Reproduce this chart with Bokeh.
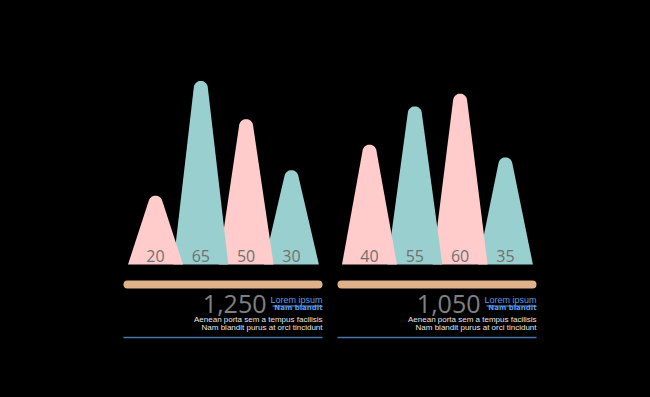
import math
from bokeh.plotting import figure
from bokeh.models import Range1d, ColumnDataSource
from bokeh.core.properties import value
from bokeh.embed import file_html
from bokeh.resources import INLINE

# ---------------- data ----------------
group_values = [[20, 65, 50, 30], [40, 55, 60, 35]]
group_totals = ["1,250", "1,050"]
title_text = "Lorem ipsum"
sub_text = "Nam blandit"
desc_lines = ["Aenean porta sem a tempus facilisis", "Nam blandit purus at orci tincidunt"]

# ---------------- style / layout ----------------
PINK = "#ffcccb"
TEAL = "#9acfcf"
TAN = "#deb28a"
BLUE_TXT = "#5b9bea"
BLUE_LINE = "#4a76b0"
LABEL_GRAY = "#707070"
TOTAL_GRAY = "#808080"

W, H = 634, 381
OFF = 8
group_left = [123, 337]
group_width = 199
slot_first = 32
slot_step = 45.3
half_base = 27.5
tip_r = 7.0
base_y = 264          # page y of the baseline
VAL_MIN = -7.0        # value at baseline
PX_PER_UNIT = 2.55
BASE_FIX = 0.4        # svg text baseline compensation (em)

p = figure(width=W, height=H, output_backend="svg", toolbar_location=None,
           x_range=Range1d(OFF, OFF + W), y_range=Range1d(OFF + H, OFF),
           min_border=0, background_fill_color="black", border_fill_color="black")
p.outline_line_color = None
p.axis.visible = False
p.grid.visible = False

canvas_from_bottom = (OFF + H) - base_y
val_start = VAL_MIN - canvas_from_bottom / PX_PER_UNIT
val_end = val_start + H / PX_PER_UNIT
p.extra_y_ranges = {"val": Range1d(val_start, val_end)}


def peak_shape(cx, v):
    hp = (v - VAL_MIN) * PX_PER_UNIT          # peak height in px
    cy = hp - tip_r
    px, py = half_base, 0.0
    d = math.hypot(px, py - cy)
    phi = math.atan2(py - cy, px)
    th = phi + math.acos(tip_r / d)
    xs = [cx - half_base]
    ys = [0.0]
    n = 24
    for i in range(n + 1):
        a = (math.pi - th) + (2 * th - math.pi) * i / n
        xs.append(cx + tip_r * math.cos(a))
        ys.append(cy + tip_r * math.sin(a))
    xs.append(cx + half_base)
    ys.append(0.0)
    ys = [VAL_MIN + y / PX_PER_UNIT for y in ys]
    return xs, ys


def txt(x, y, t, fs, color, font, style="normal", align="right"):
    p.text(x=[x], y=[y - BASE_FIX * fs], text=[t], text_align=align,
           text_baseline="alphabetic", text_color=color,
           text_font=value(font), text_font_size=f"{fs}px", text_font_style=style)


colors = [PINK, TEAL, PINK, TEAL]
for g, vals in enumerate(group_values):
    gl = group_left[g]
    gr = gl + group_width
    centers = [gl + slot_first + slot_step * k for k in range(len(vals))]
    # draw right to left so left shapes overlap
    for k in reversed(range(len(vals))):
        xs, ys = peak_shape(centers[k], vals[k])
        p.patch(xs, ys, fill_color=colors[k], line_color=None, y_range_name="val")
    src = ColumnDataSource(dict(x=centers, y=[VAL_MIN] * len(vals), t=[str(v) for v in vals]))
    p.text(x="x", y="y", text="t", source=src, y_range_name="val",
           y_offset=-(2 + BASE_FIX * 16),
           text_align="center", text_baseline="alphabetic", text_color=LABEL_GRAY,
           text_font=value("Open Sans"), text_font_size="16px")

    # tan bar
    p.line([gl + 4, gr - 4], [284, 284], line_width=8, line_color=TAN, line_cap="round")

    # total number
    txt(gr - 56, 313, group_totals[g], 25, TOTAL_GRAY, "Open Sans")
    # title + underline
    txt(gr, 303, title_text, 9, BLUE_TXT, "Liberation Sans")
    p.line([gr - 50, gr], [305.5, 305.5], line_width=1, line_color=BLUE_TXT)
    txt(gr, 310.5, sub_text, 7, BLUE_TXT, "DejaVu Sans", style="bold")
    for i, line in enumerate(desc_lines):
        txt(gr, 322.5 + 8 * i, line, 8, "#e6e6e6", "Liberation Sans")
    p.line([gl, gr], [337, 337], line_width=1.5, line_color=BLUE_LINE)

html = file_html(p, INLINE)
html = html.replace("</head>", "<style>html,body{background:#000;margin:0;padding:0;}body{margin:8px;}</style></head>")
open("out.html", "w").write(html)
